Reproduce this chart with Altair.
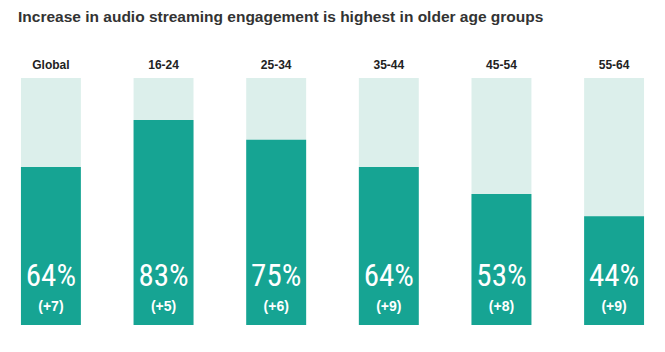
import altair as alt
import pandas as pd

categories = ["Global", "16-24", "25-34", "35-44", "45-54", "55-64"]
values = [64, 83, 75, 64, 53, 44]
changes = ["(+7)", "(+5)", "(+6)", "(+9)", "(+8)", "(+9)"]
title_text = "Increase in audio streaming engagement is highest in older age groups"

df = pd.DataFrame({
    "cat": categories,
    "value": values,
    "full": [100] * len(categories),
    "pct": [f"{v}%" for v in values],
    "chg": changes,
})

x = alt.X("cat:N", sort=categories, axis=None,
          scale=alt.Scale(paddingInner=0.468, paddingOuter=0.186))
yscale = alt.Scale(domain=[0, 100], range=[325, 78])

base = alt.Chart(df)

bg = base.mark_bar(color="#dcefeb").encode(
    x=x, y=alt.Y("full:Q", scale=yscale, axis=None))
fg = base.mark_bar(color="#16a493").encode(
    x=x, y=alt.Y("value:Q", scale=yscale, axis=None))

cat_lbl = base.mark_text(font="Liberation Sans", fontWeight="bold", fontSize=12,
                         color="#222222", baseline="middle").encode(
    x=x, y=alt.value(65), text="cat:N")

pct_lbl = base.mark_text(font="Roboto Condensed, Roboto, sans-serif",
                         fontSize=31, color="white", baseline="alphabetic").encode(
    x=x, y=alt.value(286), text="pct:N")

chg_lbl = base.mark_text(font="Liberation Sans", fontWeight="bold", fontSize=14,
                         color="white", baseline="middle").encode(
    x=x, y=alt.value(307), text="chg:N")

title = alt.Chart(pd.DataFrame({"t": [title_text]})).mark_text(
    font="Liberation Sans", fontWeight="bold", fontSize=15.5, color="#333333",
    align="left", baseline="middle").encode(
    x=alt.value(18), y=alt.value(17), text="t:N")

chart = alt.layer(bg, fg, cat_lbl, pct_lbl, chg_lbl, title).properties(
    width=665, height=352, padding=0, autosize=alt.AutoSizeParams(type="none"),
    background="white"
).configure_view(stroke=None)

chart.save("out.html", embed_options={"renderer": "svg", "actions": False})
